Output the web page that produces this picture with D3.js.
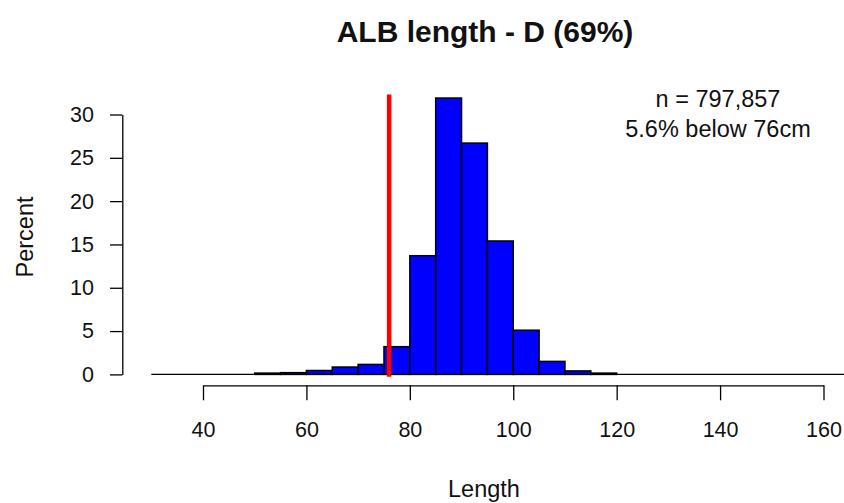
<!DOCTYPE html>
<html>
<head>
<meta charset="utf-8">
<script src="https://cdn.jsdelivr.net/npm/d3@7"></script>
<style>
  body { margin: 0; background: #fff; }
  text { font-family: "Liberation Sans", Arial, sans-serif; fill: #111; }
</style>
</head>
<body>
<div class="chart"></div>
<script>
// histogram bins (left edge, cm) and percent in each 5cm bin
var binStarts = [50, 55, 60, 65, 70, 75, 80, 85, 90, 95, 100, 105, 110, 115];
var percents = [0.15, 0.2, 0.45, 0.85, 1.15, 3.2, 13.7, 31.9, 26.7, 15.4, 5.1, 1.5, 0.4, 0.15];
var binWidth = 5;
var xTicks = [40, 60, 80, 100, 120, 140, 160];
var yTicks = [0, 5, 10, 15, 20, 25, 30];
var cutoff = 76;
var cutoffTop = 32.3;
var plotRange = [30, 165];
var title = 'ALB length - D (69%)';
var notes = ['n = 797,857', '5.6% below 76cm'];

var W = 844, H = 503;

var svg = d3.select(".chart")
    .append("svg")
    .attr("width", W)
    .attr("height", H)

var x = d3.scaleLinear().domain([40, 160]).range([203, 823.5]);
var y = d3.scaleLinear().domain([0, 30]).range([374.4, 114.5]);

// horizontal zero line across plot region
svg.append("line")
    .attr("x1", x(plotRange[0])).attr("x2", x(plotRange[1]))
    .attr("y1", y(0)).attr("y2", y(0))
    .attr("stroke", "#000").attr("stroke-width", 1.3)

svg.selectAll("rect.bar")
    .data(binStarts)
    .enter()
    .append("rect")
    .attr("class", "bar")
    .attr("x", function (d) { return x(d); })
    .attr("width", function (d) { return x(d + binWidth) - x(d); })
    .attr("y", function (d, i) { return y(percents[i]); })
    .attr("height", function (d, i) { return y(0) - y(percents[i]); })
    .style("fill", "#0000ff")
    .style("stroke", "#000")
    .style("stroke-width", 1.5)

// red cutoff line
svg.append("line")
    .attr("x1", x(cutoff)).attr("x2", x(cutoff))
    .attr("y1", y(0) + 2.3).attr("y2", y(cutoffTop))
    .attr("stroke", "#ff0000").attr("stroke-width", 4.5)

// x axis
var xAxis = svg.append("g")
    .attr("transform", "translate(0,385.3)")
    .call(d3.axisBottom(x).tickValues(xTicks).tickSizeInner(15).tickSizeOuter(0).tickPadding(21.5))
xAxis.selectAll("text").style("font-size", "21.5px").attr("fill", "#111")
xAxis.selectAll("path,line").attr("stroke", "#000").attr("stroke-width", 1.3)
xAxis.attr("font-family", null)

// y axis
var yAxis = svg.append("g")
    .attr("transform", "translate(122.3,0)")
    .call(d3.axisLeft(y).tickValues(yTicks).tickSizeInner(12.3).tickSizeOuter(0).tickPadding(16))
yAxis.selectAll("text").style("font-size", "21.5px").attr("fill", "#111")
yAxis.selectAll("path,line").attr("stroke", "#000").attr("stroke-width", 1.3)
yAxis.attr("font-family", null)

svg.append("text")
    .attr("x", 485).attr("y", 42)
    .attr("text-anchor", "middle")
    .style("font-size", "30px").style("font-weight", "bold")
    .text(title)

svg.selectAll("text.note")
    .data(notes)
    .enter()
    .append("text")
    .attr("class", "note")
    .attr("x", 718)
    .attr("y", function (d, i) { return 107 + i * 30; })
    .attr("text-anchor", "middle")
    .style("font-size", "23.5px")
    .text(function (d) { return d; })

svg.append("text")
    .attr("x", 484).attr("y", 497)
    .attr("text-anchor", "middle")
    .style("font-size", "23.5px")
    .text("Length")

svg.append("text")
    .attr("transform", "translate(33,237) rotate(-90)")
    .attr("text-anchor", "middle")
    .style("font-size", "23.5px")
    .text("Percent")
</script>
</body>
</html>
